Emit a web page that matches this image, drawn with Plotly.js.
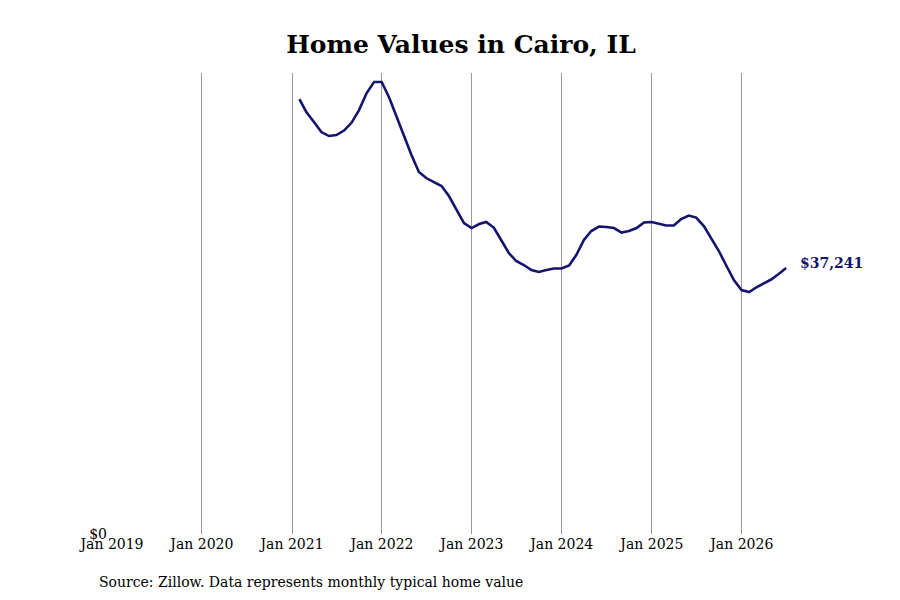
<!DOCTYPE html>
<html>
<head>
<meta charset="utf-8">
<script src="https://cdn.plot.ly/plotly-3.0.1.min.js"></script>
<style>html,body{margin:0;padding:0;background:#fff;}#chart{width:900px;height:600px;}</style>
</head>
<body>
<div id="chart"></div>
<script>
const dates = [
  '2021-01-31','2021-02-28','2021-03-31','2021-04-30','2021-05-31','2021-06-30','2021-07-31','2021-08-31','2021-09-30','2021-10-31','2021-11-30','2021-12-31',
  '2022-01-31','2022-02-28','2022-03-31','2022-04-30','2022-05-31','2022-06-30','2022-07-31','2022-08-31','2022-09-30','2022-10-31','2022-11-30','2022-12-31',
  '2023-01-31','2023-02-28','2023-03-31','2023-04-30','2023-05-31','2023-06-30','2023-07-31','2023-08-31','2023-09-30','2023-10-31','2023-11-30','2023-12-31',
  '2024-01-31','2024-02-29','2024-03-31','2024-04-30','2024-05-31','2024-06-30','2024-07-31','2024-08-31','2024-09-30','2024-10-31','2024-11-30','2024-12-31',
  '2025-01-31','2025-02-28','2025-03-31','2025-04-30','2025-05-31','2025-06-30','2025-07-31','2025-08-31','2025-09-30','2025-10-31','2025-11-30','2025-12-31',
  '2026-01-31','2026-02-28','2026-03-31','2026-04-30','2026-05-31','2026-06-30'
];
const homeValues = [
  60900, 59080, 57680, 56280, 55720, 55860, 56490, 57610, 59360, 61740, 63280, 63280,
  61040, 58520, 55860, 53130, 50680, 49840, 49280, 48720, 47320, 45360, 43540, 42840,
  43400, 43680, 42910, 41160, 39340, 38220, 37660, 36960, 36680, 36960, 37170, 37170,
  37590, 39060, 41160, 42420, 43050, 42980, 42840, 42210, 42420, 42840, 43610, 43680,
  43400, 43190, 43190, 44100, 44590, 44310, 43120, 41300, 39620, 37520, 35560, 34160,
  33880, 34510, 35070, 35630, 36400, 37241
];
const lastLabel = '$37,241';
const yTickVals = [0];
const yTickText = ['$0'];
const titleText = 'Home Values in Cairo, IL';
const sourceText = 'Source: Zillow. Data represents monthly typical home value';

const navy = '#14146c';
const font = 'DejaVu Serif, serif';
const yMax = Math.max(...homeValues) * 1.02;

const trace = {
  x: dates, y: homeValues, type: 'scatter', mode: 'lines',
  line: {color: navy, width: 2.6, shape: 'linear'},
  hoverinfo: 'skip'
};

const layout = {
  width: 900, height: 600,
  margin: {l: 112, r: 90, t: 73, b: 66},
  paper_bgcolor: '#fff', plot_bgcolor: '#fff',
  showlegend: false,
  font: {family: font, size: 14, color: '#000'},
  title: {text: '<b>' + titleText + '</b>', font: {family: font, size: 25, color: '#000'},
          x: 0.5, xref: 'paper', y: 0.927, yref: 'container', yanchor: 'middle'},
  xaxis: {
    type: 'date', range: ['2019-01-01', '2026-10-05'],
    tick0: '2019-01-01', dtick: 'M12', tickformat: '%b %Y',
    showgrid: true, gridcolor: '#999', gridwidth: 1,
    zeroline: false, showline: false, ticks: '',
    tickfont: {family: font, size: 14, color: '#000'}
  },
  yaxis: {
    range: [0, yMax], tickvals: yTickVals, ticktext: yTickText,
    showgrid: false, zeroline: false, showline: false, ticks: '',
    ticklabelstandoff: 4,
    tickfont: {family: font, size: 14, color: '#000'}
  },
  annotations: [
    {x: dates[dates.length - 1], y: homeValues[homeValues.length - 1], xref: 'x', yref: 'y',
     text: '<b>' + lastLabel + '</b>', showarrow: false, xanchor: 'left', yanchor: 'middle', xshift: 12, yshift: 5,
     font: {family: font, size: 14, color: navy}},
    {x: -0.0215, y: -0.104, xref: 'paper', yref: 'paper', text: sourceText, showarrow: false,
     xanchor: 'left', yanchor: 'middle', font: {family: font, size: 14, color: '#000'}}
  ]
};

Plotly.newPlot('chart', [trace], layout, {displayModeBar: false, staticPlot: true});
</script>
</body>
</html>
